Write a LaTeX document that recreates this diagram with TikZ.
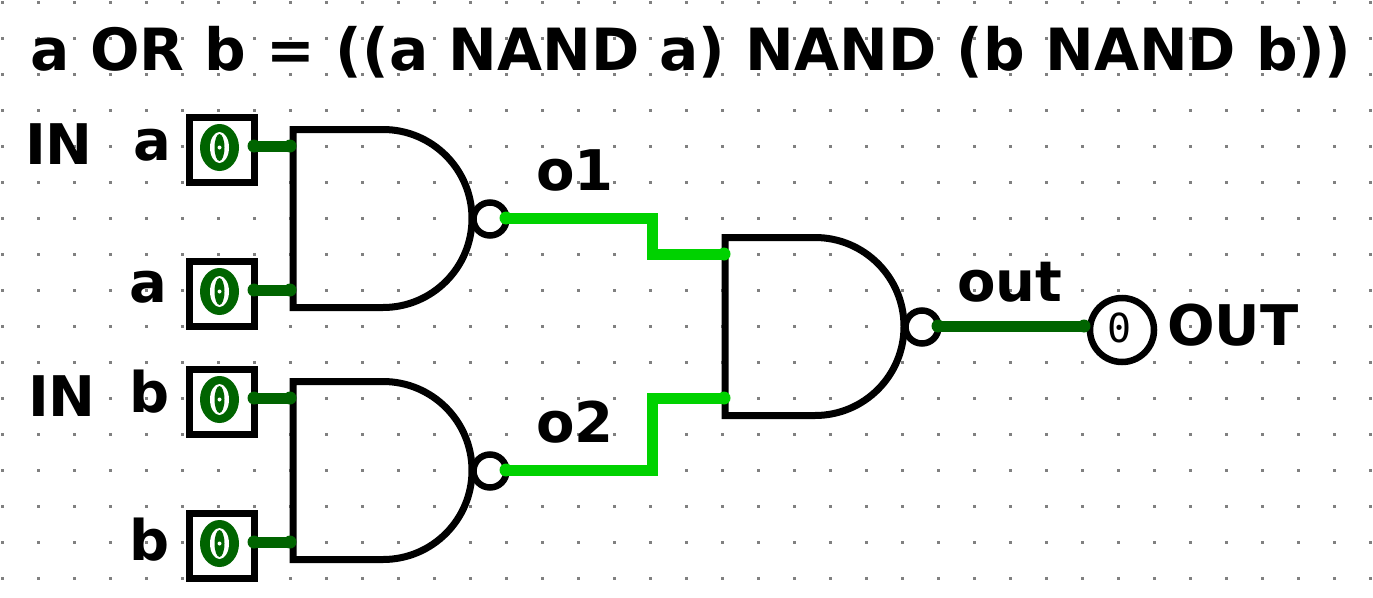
\documentclass[tikz,border=0pt]{standalone}
\usepackage{fontspec}
\setmainfont{DejaVu Sans}[BoldFont={DejaVu Sans Bold}]
\newfontfamily\zerobold{DejaVu Sans Mono Bold}[FakeBold=2]
\newfontfamily\zeroreg{DejaVu Sans Mono}
\definecolor{wiredark}{HTML}{006400}
\definecolor{wirelight}{HTML}{00D200}
\definecolor{griddot}{HTML}{808080}
\newcommand{\nandgate}[3]{% name, left x, top y
  \draw[gateline] (#2,#3) -- (#2+90,#3) arc[start angle=-90,end angle=90,radius=89] -- (#2,#3+178) -- cycle;
  \node[bubble] (#1) at (#2+197,#3+89.5) {};
}
\newcommand{\inzeroat}[3]{% name, x, y of the glyph centre
  \fill[wiredark] (#2,#3) ellipse[x radius=19.5,y radius=23.5];
  \node[inzero] (#1) at (#2,#3) {\scalebox{1.05}[0.95]{0}};
  \fill[white] (#2,#3) ellipse[x radius=9.5,y radius=15.5];
  \fill[wiredark] (#2,#3) ellipse[x radius=5,y radius=13.5];
  \fill[white] (#2,#3) circle[radius=2];
}
\tikzset{
  gateline/.style={draw=black,line width=7pt,line join=miter},
  bubble/.style={circle,draw=black,line width=6.5pt,fill=white,inner sep=0pt,minimum size=33pt},
  inbox/.style={draw=black,line width=7pt,fill=white,minimum size=65pt,inner sep=0pt},
  inzero/.style={text=wiredark,inner sep=0pt,font=\zerobold\fontsize{61}{61}\selectfont},
  outcirc/.style={circle,draw=black,line width=6.5pt,fill=white,minimum size=64pt,inner sep=0pt},
  outzero/.style={inner sep=0pt,font=\zeroreg\fontsize{40}{40}\selectfont},
  lbl/.style={font=\bfseries\fontsize{56}{56}\selectfont,inner sep=0pt,anchor=base},
  title/.style={font=\bfseries\fontsize{58.2}{58.2}\selectfont,inner sep=0pt,anchor=base},
  wire/.style={line width=11pt,line join=miter},
  pindot/.style={circle,inner sep=0pt,minimum size=13pt},
}
\begin{document}
\begin{tikzpicture}[x=1pt,y=-1pt]
\useasboundingbox (0,0) rectangle (1373,597);
\fill[white] (0,0) rectangle (1373,597);
\foreach \i in {0,...,38} \foreach \j in {0,...,16}
  \fill[griddot] (2.5+36*\i-1.5,2.5+36*\j-1.5) rectangle ++(3,3);
% gates
\nandgate{b1}{293}{129.5}
\nandgate{b2}{293}{381.5}
\nandgate{b3}{725}{237.5}
% inputs
\node[inbox] (ia) at (222,150) {};
\node[inbox] (ib) at (222,294) {};
\node[inbox] (ic) at (222,402) {};
\node[inbox] (id) at (222,546) {};
\inzeroat{za}{219.5}{147.5}
\inzeroat{zb}{219.5}{291.5}
\inzeroat{zc}{219.5}{399.5}
\inzeroat{zd}{219.5}{543.5}
\node[outcirc] (out) at (1122,330) {};
\node[outzero] (zo) at (1120,328) {0};
% pins
\coordinate (ga) at (290,146);
\coordinate (gb) at (290,290);
\coordinate (gc) at (290,398);
\coordinate (gd) at (290,542);
\coordinate (g3a) at (724,254);
\coordinate (g3b) at (724,398);
\coordinate (w1) at (652,218);
\coordinate (w2) at (652,254);
\coordinate (w3) at (652,470);
\coordinate (w4) at (652,398);
\coordinate (sa) at (254,146);
\coordinate (sb) at (254,290);
\coordinate (sc) at (254,398);
\coordinate (sd) at (254,542);
\coordinate (o1) at (506,218);
\coordinate (o2) at (506,470);
\coordinate (o3) at (938,326);
\coordinate (e3) at (1084,326);
% wires
\foreach \s/\t in {sa/ga,sb/gb,sc/gc,sd/gd,o3/e3} {
  \draw[wire,wiredark] (\s) -- (\t);
  \node[pindot,fill=wiredark] at (\s) {};
  \node[pindot,fill=wiredark] at (\t) {};
}
\draw[wire,wirelight] (o1) -- (w1) -- (w2) -- (g3a);
\draw[wire,wirelight] (o2) -- (w3) -- (w4) -- (g3b);
\foreach \p in {o1,o2,g3a,g3b} \node[pindot,fill=wirelight] at (\p) {};
% labels
\node[title] (t) at (691,70) {a OR b = ((a NAND a) NAND (b NAND b))};
\node[lbl] (l1) at (59,164) {IN};
\node[lbl] (l2) at (152,160) {a};
\node[lbl] (l3) at (148,302) {a};
\node[lbl] (l4) at (62,416) {IN};
\node[lbl] (l5) at (150,412) {b};
\node[lbl] (l6) at (150,560) {b};
\node[lbl] (l7) at (575,190) {o1};
\node[lbl] (l8) at (575,442) {o2};
\node[lbl] (l9) at (1010,301) {out};
\node[lbl] (l10) at (1233,345) {OUT};
\end{tikzpicture}
\end{document}
